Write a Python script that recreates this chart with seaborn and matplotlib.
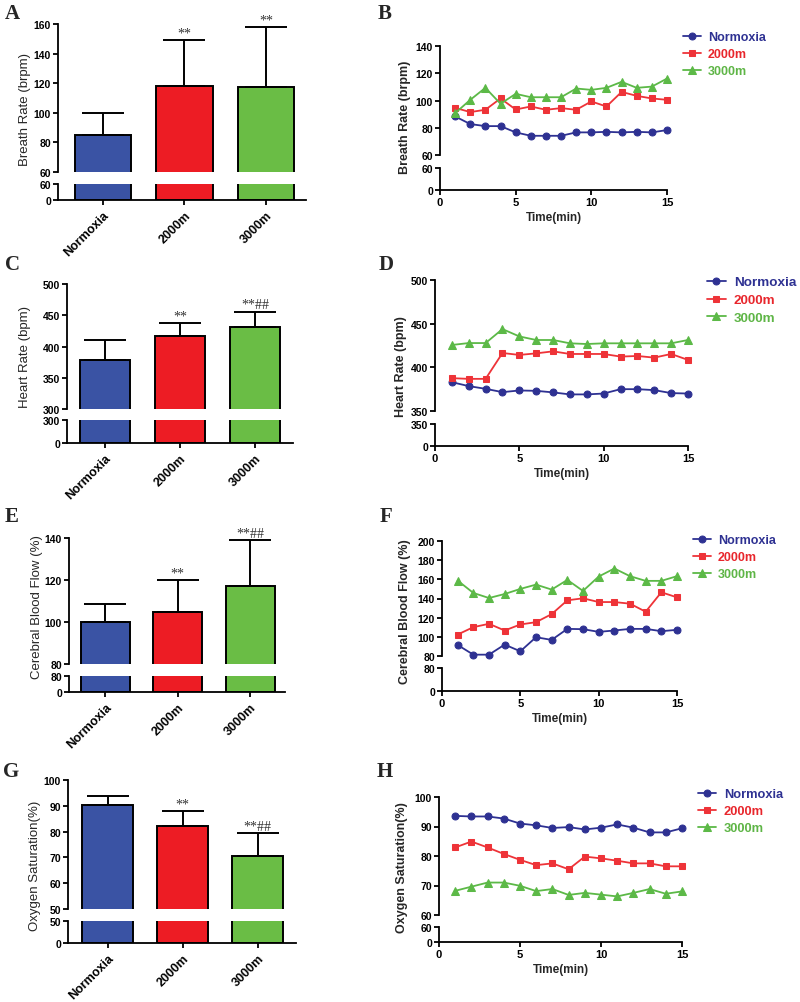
import matplotlib
matplotlib.use("Agg")
import matplotlib.pyplot as plt
import numpy as np
import pandas as pd
import seaborn as sns

# ---------------- data ----------------
groups = ["Normoxia", "2000m", "3000m"]
minutes = [1, 2, 3, 4, 5, 6, 7, 8, 9, 10, 11, 12, 13, 14, 15]

breath_mean = [85, 118, 117.5]
breath_err = [15, 31, 40.5]
breath_sig = ["", "**", "**"]

heart_mean = [379, 417, 431]
heart_err = [31, 20, 24]
heart_sig = ["", "**", "**##"]

cbf_mean = [100, 104.7, 117.2]
cbf_err = [8.7, 15.1, 21.7]
cbf_sig = ["", "**", "**##"]

spo2_mean = [90.5, 82, 70.4]
spo2_err = [3.3, 6, 8.9]
spo2_sig = ["", "**", "**##"]

breath_norm = [88.3, 82.7, 81.2, 81.2, 76.6, 74.1, 74.1, 74.1, 76.6, 76.6, 77.0, 76.6, 77.0, 76.6, 78.3]
breath_2000 = [94.6, 91.5, 93.2, 101.5, 93.4, 95.6, 93.2, 94.4, 93.2, 99.3, 95.6, 106.3, 103.4, 101.5, 100.5]
breath_3000 = [90.7, 100.5, 109.3, 97.6, 104.9, 102.4, 102.4, 102.4, 108.8, 107.8, 109.3, 113.7, 109.3, 110.2, 116.1]

heart_norm = [383.0, 378.5, 375.4, 371.6, 373.5, 373.1, 371.3, 369.0, 369.0, 370.0, 375.0, 375.0, 373.9, 370.5, 370.0]
heart_2000 = [387.6, 386.8, 386.8, 416.4, 414.2, 416.0, 418.3, 415.3, 415.3, 415.3, 412.3, 413.0, 411.1, 415.3, 408.5]
heart_3000 = [425.6, 427.8, 427.8, 443.8, 435.4, 431.3, 431.3, 427.5, 426.7, 427.5, 427.5, 427.5, 427.5, 427.5, 431.3]

cbf_norm = [91.5, 81.4, 81.4, 91.9, 84.9, 99.6, 96.8, 108.3, 108.0, 105.2, 106.6, 108.3, 108.3, 105.9, 107.3]
cbf_2000 = [102.4, 110.1, 113.6, 106.6, 112.9, 115.3, 123.7, 138.1, 140.2, 136.3, 136.3, 134.6, 126.2, 146.5, 141.2]
cbf_3000 = [158.7, 145.8, 140.5, 144.7, 150.0, 154.5, 149.3, 159.4, 147.9, 162.9, 171.3, 163.3, 158.4, 158.4, 163.3]

spo2_norm = [93.6, 93.4, 93.4, 92.7, 91.0, 90.4, 89.5, 89.8, 89.0, 89.6, 90.7, 89.6, 88.0, 88.0, 89.4]
spo2_2000 = [82.9, 84.9, 82.9, 80.7, 78.7, 76.9, 77.5, 75.5, 79.8, 79.2, 78.4, 77.5, 77.5, 76.5, 76.5]
spo2_3000 = [68.2, 69.6, 71.0, 71.0, 69.9, 68.1, 68.8, 66.8, 67.5, 66.9, 66.3, 67.5, 68.8, 67.2, 68.0]

# ---------------- style ----------------
sns.set_theme(style="ticks")
plt.rcParams["font.family"] = ["Liberation Sans", "DejaVu Sans"]

bar_colors = ["#3A53A4", "#ED1C24", "#6ABD45"]
line_colors = ["#2E3192", "#EE3338", "#5CB947"]
text_colors = ["#2E3192", "#E8262C", "#5EB546"]
markers = ["o", "s", "^"]
msizes = [5, 5, 6]

W, H = 800, 1003
fig = plt.figure(figsize=(W / 100, H / 100), dpi=100)
fig.patch.set_facecolor("white")


def add_ax(l, r, t, b):
    return fig.add_axes([l / W, 1 - b / H, (r - l) / W, (b - t) / H])


def style_ax(ax, show_bottom):
    for s in ["top", "right"]:
        ax.spines[s].set_visible(False)
    for s in ["left", "bottom"]:
        ax.spines[s].set_linewidth(1.3)
        ax.spines[s].set_color("black")
    ax.tick_params(width=1.3, length=3.5, labelsize=7.5, pad=1.5, color="black", labelcolor="black")
    if not show_bottom:
        ax.spines["bottom"].set_visible(False)
        ax.tick_params(axis="x", bottom=False, labelbottom=False)
    for lab in ax.get_yticklabels():
        lab.set_fontweight("bold")
    ax.set_facecolor("none")
    ax.set_xlabel("")
    ax.set_ylabel("")


def letter(txt, x, y):
    fig.text(x / W, 1 - y / H, txt, fontsize=15, fontweight="bold",
             family="Liberation Serif", ha="center", va="center")


def ylabel(txt, x, y, bold=False, size=9.5):
    fig.text(x / W, 1 - y / H, txt, rotation=90, ha="center", va="center",
             fontsize=size, fontweight="bold" if bold else "normal")


def bar_panel(geom, means, errs, sigs, top_lim, top_ticks, brk, xlim, width):
    l, r, t, m1, m2, b = geom
    df = pd.DataFrame({"group": groups, "value": means})
    ax_t = add_ax(l, r, t, m1)
    ax_b = add_ax(l, r, m2, b)
    for ax in (ax_t, ax_b):
        sns.barplot(data=df, x="group", y="value", hue="group", palette=bar_colors,
                    saturation=1, width=width, edgecolor="black", linewidth=1.4, ax=ax,
                    legend=False, errorbar=None)
        ax.set_xlim(*xlim)
    ax_t.set_ylim(brk, top_lim)
    ax_t.set_yticks(top_ticks)
    ax_b.set_ylim(0, brk)
    ax_b.set_yticks([0, brk])
    ax_t.errorbar(x=list(range(3)), y=means, yerr=[[0, 0, 0], errs], fmt="none",
                  ecolor="black", elinewidth=1.4, capsize=15, capthick=1.4, clip_on=False)
    for i, s in enumerate(sigs):
        if s:
            ax_t.annotate(s, (i, means[i] + errs[i]), xytext=(0, 0.5), textcoords="offset points",
                          ha="center", va="bottom", fontsize=10, family="Liberation Serif",
                          color="#333333", annotation_clip=False)
    style_ax(ax_t, False)
    style_ax(ax_b, True)
    ax_b.set_xticks(range(3))
    ax_b.set_xticklabels(groups, rotation=45, ha="right", rotation_mode="anchor",
                         fontsize=9, fontweight="bold")
    ax_b.tick_params(axis="x", pad=3)
    return ax_t, ax_b


def line_panel(geom, series, top_lim, top_ticks, brk, leg_xy, leg_fs):
    l, r, t, m1, m2, b = geom
    ax_t = add_ax(l, r, t, m1)
    ax_b = add_ax(l, r, m2, b)
    names = groups
    for vals, name, c, mk, ms in zip(series, names, line_colors, markers, msizes):
        sns.lineplot(x=minutes, y=vals, ax=ax_t, color=c, marker=mk, markersize=ms,
                     markeredgecolor=c, linewidth=1.3, label=name, legend=False)
    for ln in ax_t.lines:
        ln.set_clip_on(False)
    ax_t.set_xlim(0, 15)
    ax_t.set_ylim(brk, top_lim)
    ax_t.set_yticks(top_ticks)
    ax_b.set_xlim(0, 15)
    ax_b.set_ylim(0, brk)
    ax_b.set_yticks([0, brk])
    ax_b.set_xticks([0, 5, 10, 15])
    style_ax(ax_t, False)
    style_ax(ax_b, True)
    for lab in ax_b.get_xticklabels():
        lab.set_fontweight("bold")
    ax_b.tick_params(axis="x", labelsize=8)
    ax_b.set_xlabel("Time(min)", fontsize=8.5, fontweight="bold", labelpad=3)
    handles = ax_t.lines[:3]
    leg = ax_t.legend(handles, names, loc="upper left",
                      bbox_to_anchor=(leg_xy[0] / W, 1 - leg_xy[1] / H),
                      bbox_transform=fig.transFigure, frameon=False, borderpad=0,
                      borderaxespad=0, handlelength=1.4, handletextpad=0.6,
                      labelspacing=0.4, prop={"weight": "bold", "size": leg_fs})
    for txt, c in zip(leg.get_texts(), text_colors):
        txt.set_color(c)
    return ax_t, ax_b


# ---------------- panels ----------------
bar_panel((58, 306, 25, 173, 185, 201), breath_mean, breath_err, breath_sig,
          160, [60, 80, 100, 120, 140, 160], 60, (-0.55, 2.49), 0.69)
bar_panel((67, 293, 285, 410, 421, 444), heart_mean, heart_err, heart_sig,
          500, [300, 350, 400, 450, 500], 300, (-0.51, 2.51), 0.67)
bar_panel((69, 285, 539, 665, 677, 693), cbf_mean, cbf_err, cbf_sig,
          140, [80, 100, 120, 140], 80, (-0.5, 2.48), 0.68)
bar_panel((68, 296, 781, 910, 922, 944), spo2_mean, spo2_err, spo2_sig,
          100, [50, 60, 70, 80, 90, 100], 50, (-0.53, 2.51), 0.68)

line_panel((440, 667, 47, 156, 169, 191), [breath_norm, breath_2000, breath_3000],
           140, [60, 80, 100, 120, 140], 60, (683, 32), 9)
line_panel((435, 688, 281, 412, 425, 447), [heart_norm, heart_2000, heart_3000],
           500, [350, 400, 450, 500], 350, (707, 277), 9.7)
line_panel((442, 677, 542, 657, 669, 692), [cbf_norm, cbf_2000, cbf_3000],
           200, [80, 100, 120, 140, 160, 180, 200], 80, (693, 535), 9)
line_panel((439, 682, 798, 916, 928, 943), [spo2_norm, spo2_2000, spo2_3000],
           100, [60, 70, 80, 90, 100], 60, (698, 789), 9.3)

# y labels
ylabel("Breath Rate (brpm)", 25, 110)
ylabel("Heart Rate (bpm)", 25, 357)
ylabel("Cerebral Blood Flow (%)", 37, 607)
ylabel("Oxygen Saturation(%)", 35, 866)
ylabel("Breath Rate (brpm)", 405, 117, bold=True, size=9)
ylabel("Heart Rate (bpm)", 401, 367, bold=True, size=9)
ylabel("Cerebral Blood Flow (%)", 405, 612, bold=True, size=9)
ylabel("Oxygen Saturation(%)", 402, 868, bold=True, size=9)

# panel letters
letter("A", 12, 14)
letter("B", 385, 14)
letter("C", 12, 265)
letter("D", 386, 265)
letter("E", 12, 517)
letter("F", 386, 517)
letter("G", 11, 772)
letter("H", 385, 772)

fig.savefig("out.png", dpi=100)
